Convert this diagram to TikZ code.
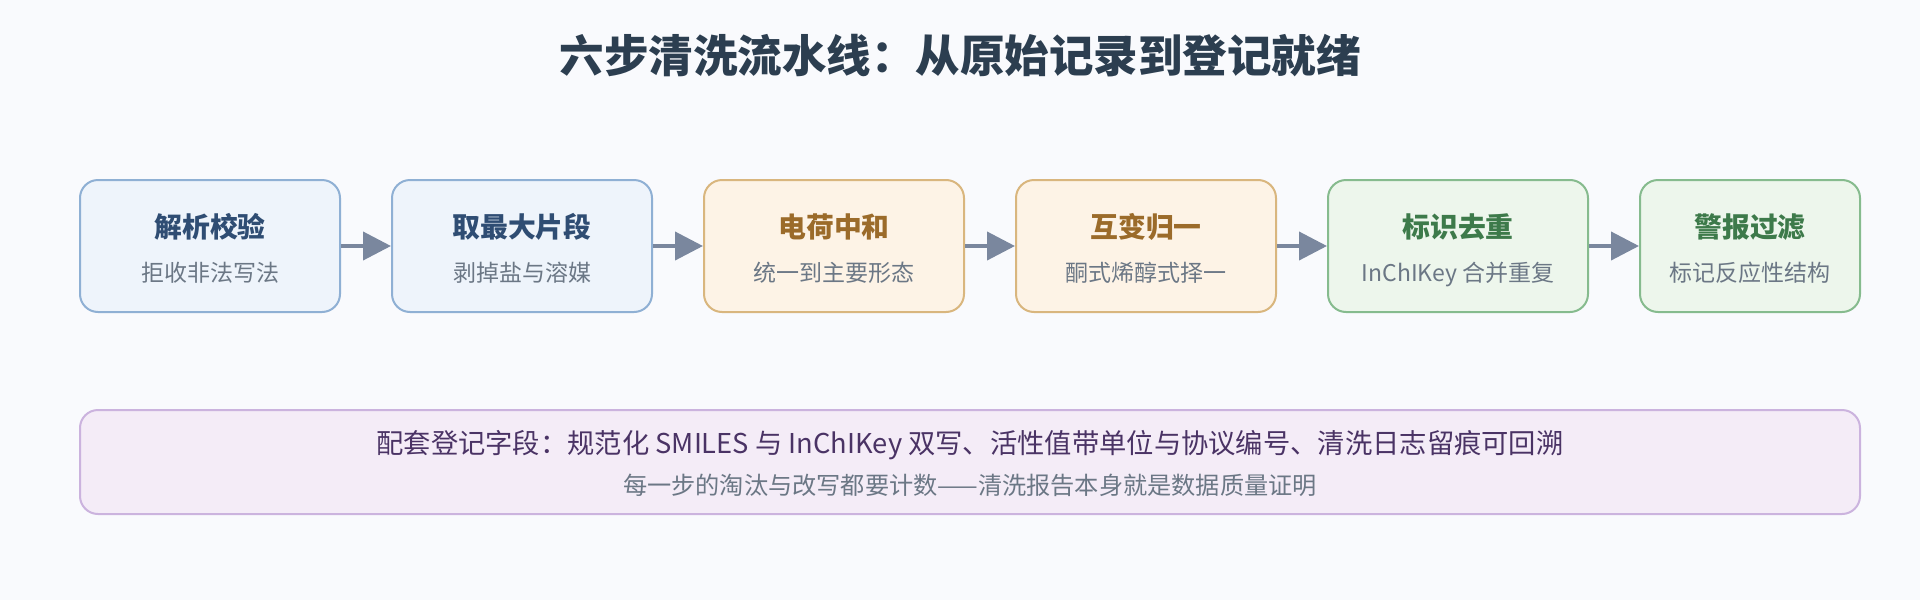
\documentclass[tikz,border=0pt]{standalone}
\usepackage{fontspec}
\setmainfont{Noto Sans CJK SC}
\usetikzlibrary{arrows.meta}
\definecolor{bgc}{HTML}{F9FAFD}
\definecolor{titlec}{HTML}{2C3E50}
\definecolor{subc}{HTML}{6B7785}
\definecolor{bluefill}{HTML}{EEF4FB}
\definecolor{blueline}{HTML}{8FB0D4}
\definecolor{bluetext}{HTML}{2F4D73}
\definecolor{orfill}{HTML}{FDF3E6}
\definecolor{orline}{HTML}{D9B67E}
\definecolor{ortext}{HTML}{9B6B2A}
\definecolor{grfill}{HTML}{EDF6EC}
\definecolor{grline}{HTML}{86BB8E}
\definecolor{grtext}{HTML}{3D7A4A}
\definecolor{pufill}{HTML}{F4ECF7}
\definecolor{puline}{HTML}{CBB3DE}
\definecolor{putext}{HTML}{4A3365}
\definecolor{arrc}{HTML}{7A879E}
\tikzset{
  stepbox/.style={draw, line width=2pt, rounded corners=18pt, minimum height=132pt, inner sep=0pt},
  bluebox/.style={stepbox, fill=bluefill, draw=blueline},
  orbox/.style={stepbox, fill=orfill, draw=orline},
  grbox/.style={stepbox, fill=grfill, draw=grline},
  txt/.style={inner sep=0pt, text height=0.88em, text depth=0.12em, anchor=center},
  ttl/.style={txt, font=\fontsize{27.8pt}{30pt}\selectfont\bfseries},
  sub/.style={txt, font=\fontsize{23pt}{26pt}\selectfont, text=subc},
  flow/.style={draw=arrc, line width=4pt, -{Triangle[length=28pt, width=28pt]}, shorten >=0pt},
}
\begin{document}
\begin{tikzpicture}[x=1pt, y=1pt]
\fill[bgc] (0,0) rectangle (1920,-600);
\useasboundingbox (0,0) rectangle (1920,-600);
\node[txt, font=\fontsize{44.5pt}{48pt}\selectfont\bfseries, text=titlec] (title) at (960,-69) {六步清洗流水线：从原始记录到登记就绪};
% boxes
\node[bluebox, minimum width=260pt] (b1) at (210,-246) {};
\node[bluebox, minimum width=260pt] (b2) at (522,-246) {};
\node[orbox, minimum width=260pt] (b3) at (834,-246) {};
\node[orbox, minimum width=260pt] (b4) at (1146,-246) {};
\node[grbox, minimum width=260pt] (b5) at (1458,-246) {};
\node[grbox, minimum width=220pt] (b6) at (1750,-246) {};
% texts
\node[ttl, text=bluetext] (t1) at (210,-234) {解析校验};
\node[sub] (s1) at (210,-278) {拒收非法写法};
\node[ttl, text=bluetext] (t2) at (522,-234) {取最大片段};
\node[sub] (s2) at (522,-278) {剥掉盐与溶媒};
\node[ttl, text=ortext] (t3) at (834,-234) {电荷中和};
\node[sub] (s3) at (834,-278) {统一到主要形态};
\node[ttl, text=ortext] (t4) at (1146,-234) {互变归一};
\node[sub] (s4) at (1146,-278) {酮式烯醇式择一};
\node[ttl, text=grtext] (t5) at (1458,-234) {标识去重};
\node[sub] (s5) at (1458,-278) {InChIKey 合并重复};
\node[ttl, text=grtext] (t6) at (1750,-234) {警报过滤};
\node[sub] (s6) at (1750,-278) {标记反应性结构};
% arrows
\draw[flow] (b1.east) -- (b2.west);
\draw[flow] (b2.east) -- (b3.west);
\draw[flow] (b3.east) -- (b4.west);
\draw[flow] (b4.east) -- (b5.west);
\draw[flow] (b5.east) -- (b6.west);
% bottom panel
\node[draw=puline, fill=pufill, line width=2pt, rounded corners=18pt, minimum width=1780pt, minimum height=104pt, inner sep=0pt] (panel) at (970,-462) {};
\node[txt, font=\fontsize{27.3pt}{30pt}\selectfont, text=putext] (p1) at (970,-450) {配套登记字段：规范化 SMILES 与 InChIKey 双写、活性值带单位与协议编号、清洗日志留痕可回溯};
\node[txt, font=\fontsize{24.2pt}{28pt}\selectfont, text=subc] (p2) at (970,-491) {每一步的淘汰与改写都要计数——清洗报告本身就是数据质量证明};
\end{tikzpicture}
\end{document}
